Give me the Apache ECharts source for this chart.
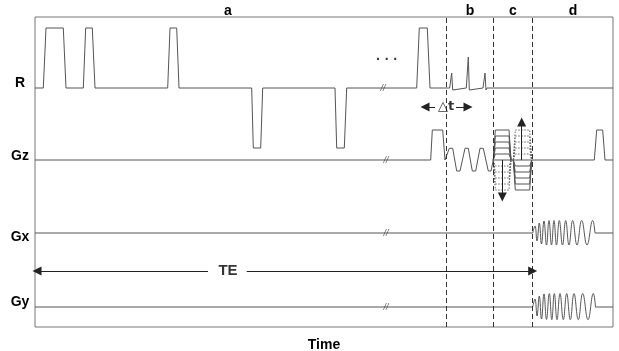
<!DOCTYPE html>
<html><head><meta charset="utf-8">
<script src="https://cdn.jsdelivr.net/npm/echarts@6/dist/echarts.min.js"></script>
<style>html,body{margin:0;padding:0;background:#fff}#c{width:619px;height:351px}</style>
</head><body><div id="c"></div>
<script>
// ---- data (time in arbitrary units, amplitude relative to each track baseline) ----
const trackNames = ['R', 'Gz', 'Gx', 'Gy'];
const segmentLetters = ['a', 'b', 'c', 'd'];
const segmentLetterTimes = [193, 435, 478, 538];
const rWave = [[0,0],[8.3,0],[11,60],[28.3,60],[31,0],[48.3,0],[50.7,60],[57.3,60],[60,0],
  [132.7,0],[135,60],[141.7,60],[144,0],[216.7,0],[218.3,-60],[225.7,-60],[227.7,0],
  [300,0],[301.7,-60],[309.3,-60],[311.7,0],[381.7,0],[384.3,60],[392.3,60],[395,0],
  [414.7,0],[415.7,-2],[416.7,15],[417.7,-2],[418.7,0],[431.3,0],[432.3,-2],[433.3,31],[434.3,-2],[435.3,0],
  [448,0],[449,-2],[450,15],[451,-2],[452,0]];
const rTail = [[452,0],[578,0]];
const gzWave = [[0,0],[395.7,0],[397.3,30],[407.7,30],[410,0],[414.3,11.7],[417.7,11.7],[421.7,-11],[425,-11],
  [430,11.7],[433.3,11.7],[437.3,-11],[440.7,-11],[445,11.7],[448.3,11.7],[453.3,-11],[456,-11],[458.3,0],
  [559.3,0],[561.7,30],[567.7,30],[570,0],[578,0]];
const peLevels = [6, 12, 18, 24, 30];
const pe1Time = [458.3, 476];
const pe2Time = [478.3, 496.7];
const peArrowTimes = [467.3, 486.7];
const peArrowAmps = [-37, 38];
const gxFlat = [[[0,0],[497.7,0]], [[560,0],[578,0]]];
const gxWave = [[497.7,0],[500,7],[502,-8],[504.3,10],[506.5,-11],[509,12],[511.5,-12],[514,12.5],[516.5,-12],
  [519,12.5],[521.5,-12],[524.3,12.5],[527.5,-12],[530.7,12.5],[534,-12],[537.7,12.5],[542,-12],
  [546.7,12.5],[552,-12],[557.7,12.5],[560,0]];
const gyFlat = [[[0,0],[497.7,0]], [[560,0],[578,0]]];
const gyWave = [[497.7,0],[500,8],[502,-9],[504.3,11],[506.5,-12],[509,13],[511.5,-12.5],[514.3,13.5],[516.8,-12.7],
  [519.3,13.5],[522,-12.7],[525,13.5],[528.3,-12.7],[531.7,13.5],[535.3,-12.7],[539,13.5],[543.3,-12.7],
  [547.7,13.5],[553,-12.7],[558.3,13.5],[560.5,0]];
const dividerTimes = [411, 458.3, 497.7];
const breakTimes = [348, 351, 351, 351];
const teSpan = [2, 497.7];
const deltaTSpan = [390, 433];

// ---- layout ----
const BASE = [239, 167, 94, 20];
const LABEL_V = [244, 171, 90, 25];
const TE_V = 56, DT_V = 220;
const LINE = '#555';

const shift = (data, base) => data.map(p => [p[0], base + p[1]]);
const lineS = (data, base, extra) => Object.assign({
  type: 'line', data: shift(data, base), symbol: 'none', silent: true,
  lineStyle: { color: LINE, width: 1 }, z: 3
}, extra || {});
const trap = (t, h, r) => [[t[0], 0], [t[0] + r, h], [t[1] - r, h], [t[1], 0]];

const series = [];
series.push(lineS(rWave, BASE[0]));
series.push(lineS(rTail, BASE[0]));
series.push(lineS(gzWave, BASE[1]));
peLevels.forEach(h => {
  series.push(lineS(trap(pe1Time, h, 2), BASE[1]));
  series.push(lineS(trap(pe1Time, -h, 2), BASE[1], { lineStyle: { color: '#666', width: 1, type: [1.5, 1.5] } }));
  series.push(lineS(trap(pe2Time, -h, 2), BASE[1]));
  series.push(lineS(trap(pe2Time, h, 2), BASE[1], { lineStyle: { color: '#666', width: 1, type: [1.5, 1.5] } }));
});
gxFlat.forEach(d => series.push(lineS(d, BASE[2])));
series.push(lineS(gxWave, BASE[2], { smooth: 0.45 }));
gyFlat.forEach(d => series.push(lineS(d, BASE[3])));
series.push(lineS(gyWave, BASE[3], { smooth: 0.45 }));

// dividers + arrows
const arrowEnd = { symbol: 'triangle', symbolSize: 9 };
series.push({
  type: 'line', data: [], silent: true,
  markLine: {
    silent: true, animation: false, symbol: 'none', label: { show: false },
    data: [
      ...dividerTimes.map(t => ({ xAxis: t, lineStyle: { color: '#333', width: 1, type: [5, 3] } })),
      [{ coord: [peArrowTimes[0], BASE[1]], symbol: 'none' }, Object.assign({ coord: [peArrowTimes[0], BASE[1] + peArrowAmps[0]] }, arrowEnd)],
      [{ coord: [peArrowTimes[1], BASE[1]], symbol: 'none' }, Object.assign({ coord: [peArrowTimes[1], BASE[1] + peArrowAmps[1]] }, arrowEnd)],
      [Object.assign({ coord: [teSpan[0], TE_V] }, arrowEnd), { coord: [173, TE_V], symbol: 'none' }],
      [{ coord: [211.7, TE_V], symbol: 'none' }, Object.assign({ coord: [teSpan[1], TE_V] }, arrowEnd)],
      [Object.assign({ coord: [deltaTSpan[0], DT_V] }, arrowEnd), { coord: [400, DT_V], symbol: 'none' }],
      [{ coord: [421, DT_V], symbol: 'none' }, Object.assign({ coord: [deltaTSpan[1], DT_V] }, arrowEnd)]
    ],
    lineStyle: { color: '#222', width: 1, type: 'solid' },
    itemStyle: { color: '#000' }
  }
});

// text marks
const txt = (name, v, style) => ({ name, value: v, label: Object.assign({ show: true, formatter: name, position: 'inside',
  color: '#000', fontFamily: 'Liberation Sans, Arial, DejaVu Sans', fontWeight: 'bold', fontSize: 14 }, style || {}) });
series.push({
  type: 'scatter', symbolSize: 0, silent: true, clip: false, z: 5,
  data: [
    ...breakTimes.map((t, i) => txt('//', [t, BASE[i]], { fontSize: 9, fontWeight: 'normal', fontStyle: 'italic', color: '#333' })),
    txt('TE', [193, TE_V], { fontSize: 15 }),
    txt('△t', [411, DT_V], { fontSize: 13, fontFamily: 'DejaVu Sans' }),
    txt('· · ·', [352, 267], { fontSize: 14 })
  ]
});

const chart = echarts.init(document.getElementById('c'), null, { renderer: 'canvas' });
const labelFont = { color: '#000', fontFamily: 'Liberation Sans, Arial', fontWeight: 'bold', fontSize: 14 };
chart.setOption({
  animation: false,
  backgroundColor: '#fff',
  grid: { left: 35, right: 6, top: 17, bottom: 24, show: true, borderColor: '#777', borderWidth: 1,
    containLabel: false, outerBoundsMode: 'none' },
  xAxis: [
    { type: 'value', min: 0, max: 578, position: 'bottom', axisLine: { show: false }, axisTick: { show: false },
      axisLabel: { show: false }, splitLine: { show: false },
      name: 'Time', nameLocation: 'middle', nameGap: 11, nameTextStyle: labelFont },
    { type: 'value', min: 0, max: 578, position: 'top', axisLine: { show: false }, axisTick: { show: false },
      splitLine: { show: false },
      axisLabel: Object.assign({ show: true, margin: -1, customValues: segmentLetterTimes,
        formatter: v => segmentLetters[segmentLetterTimes.indexOf(v)] || '' }, labelFont) }
  ],
  yAxis: { type: 'value', min: 0, max: 310, axisLine: { show: false }, axisTick: { show: false },
    splitLine: { show: false },
    axisLabel: Object.assign({ show: true, margin: 15, align: 'center', customValues: LABEL_V,
      formatter: v => trackNames[LABEL_V.indexOf(v)] || '' }, labelFont) },
  series
});
</script></body></html>
